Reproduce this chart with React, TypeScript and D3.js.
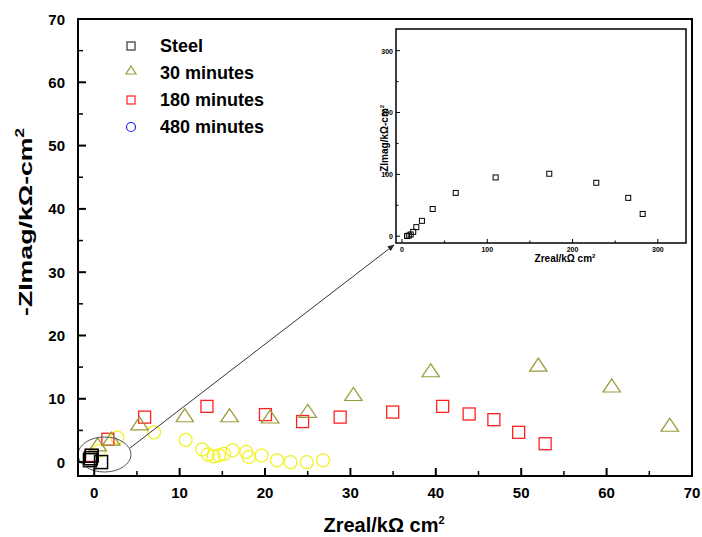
import React from "react";
import * as d3 from "d3";

// main chart values, kΩ·cm²
const steelX = [-0.5, -0.4, -0.3, 0.8];
const steelY = [0.3, 0.6, 1.0, 0];

const min30X = [0.4, 2.0, 5.3, 10.6, 15.85, 20.6, 25.0, 30.35, 39.4, 52.0, 60.6, 67.4];
const min30Y = [2.3, 3.2, 5.6, 6.9, 6.9, 6.7, 7.6, 10.25, 14.0, 14.9, 11.6, 5.4];

const min180X = [-0.3, 1.6, 5.9, 13.2, 20.05, 24.4, 28.8, 34.95, 40.8, 43.9, 46.8, 49.7, 52.8];
const min180Y = [1.05, 3.6, 7.1, 8.8, 7.5, 6.4, 7.1, 7.9, 8.8, 7.6, 6.7, 4.7, 2.9];

const min480X = [0.6, 2.7, 7.0, 10.7, 12.65, 13.3, 14.0, 14.6, 15.2, 16.2, 17.8, 18.1, 19.6, 21.4, 23.0, 24.9, 26.8];
const min480Y = [1.8, 3.9, 4.7, 3.5, 2.0, 1.2, 0.9, 1.05, 1.3, 1.85, 1.6, 0.8, 1.05, 0.27, 0, 0, 0.27];

// inset: steel only
const insetX = [6, 8, 10.2, 13.2, 16.8, 23.4, 36, 63, 109.8, 172.7, 227.8, 265.3, 282.2];
const insetY = [0.3, 1, 2.8, 7, 14.6, 24.8, 44, 70, 95, 101, 86.4, 62, 36];

const mainTicks = [0, 10, 20, 30, 40, 50, 60, 70];
const insetTicks = [0, 100, 200, 300];
const legendLabels = ["Steel", "30 minutes", "180 minutes", "480 minutes"];

const FONT = "'Liberation Sans', Arial, sans-serif";
const OLIVE = "#9c9a3c";
const RED = "#ff2020";
const YELLOW = "#f2f22a";

const ml = 78, mr = 692, mt = 19, mb = 476;
const il = 396, ir = 686, it = 29, ib = 243;

export default function App() {
  const x = d3.scaleLinear().domain([-1.9, 70]).range([ml, mr]);
  const y = d3.scaleLinear().domain([-2.2, 70]).range([mb, mt]);
  const ix = d3.scaleLinear().domain([-7, 333]).range([il, ir]);
  const iy = d3.scaleLinear().domain([-11, 335]).range([ib, it]);

  const minorMain = d3.range(5, 70, 10);
  const minorInset = d3.range(50, 333, 100);

  const tri = d3.symbol().type(d3.symbolTriangle).size(120);

  return (
    <svg width={702} height={537} style={{ position: "absolute", left: 0, top: 0, background: "#fff" }} fontFamily={FONT}>
      <defs>
        <marker id="ah" viewBox="0 0 10 10" refX="9" refY="5" markerWidth="7" markerHeight="7" orient="auto">
          <path d="M0,1 L10,5 L0,9 Z" fill="#222" />
        </marker>
      </defs>

      {/* series */}
      {min480X.map((v, i) => (
        <circle key={"c" + i} cx={x(v)} cy={y(min480Y[i])} r={6.5} fill="none" stroke={YELLOW} strokeWidth={1.3} />
      ))}
      {min180X.map((v, i) => (
        <rect key={"r" + i} x={x(v) - 6} y={y(min180Y[i]) - 6} width={12} height={12} fill="none" stroke={RED} strokeWidth={1.3} />
      ))}
      {min30X.map((v, i) => (
        <path key={"t" + i} d={tri() ?? ""} transform={`translate(${x(v)},${y(min30Y[i]) - 1}) scale(1.05,0.9)`} fill="none" stroke={OLIVE} strokeWidth={1.3} />
      ))}
      {steelX.map((v, i) => (
        <rect key={"s" + i} x={x(v) - 6.5} y={y(steelY[i]) - 6.5} width={13} height={13} fill="none" stroke="#000" strokeWidth={1.5} />
      ))}

      {/* zoom ellipse and arrow */}
      <ellipse cx={104.5} cy={454.5} rx={26.5} ry={17.5} fill="none" stroke="#555" strokeWidth={1} />
      <line x1={130} y1={448} x2={394} y2={245} stroke="#333" strokeWidth={1} markerEnd="url(#ah)" />

      {/* main frame */}
      <rect x={ml} y={mt} width={mr - ml} height={mb - mt} fill="none" stroke="#000" strokeWidth={2} />
      {mainTicks.map((t) => (
        <g key={"mt" + t}>
          <line x1={x(t)} x2={x(t)} y1={mb} y2={mb - 8} stroke="#000" strokeWidth={2} />
          <line x1={ml} x2={ml + 8} y1={y(t)} y2={y(t)} stroke="#000" strokeWidth={2} />
          <text x={x(t)} y={mb + 22} textAnchor="middle" fontSize={15} fontWeight="bold">{t}</text>
          <text x={ml - 13} y={y(t) + 5.5} textAnchor="end" fontSize={15} fontWeight="bold">{t}</text>
        </g>
      ))}
      {minorMain.map((t) => (
        <g key={"mn" + t}>
          <line x1={x(t)} x2={x(t)} y1={mb} y2={mb - 5} stroke="#000" strokeWidth={1.5} />
          <line x1={ml} x2={ml + 5} y1={y(t)} y2={y(t)} stroke="#000" strokeWidth={1.5} />
        </g>
      ))}
      <text x={384} y={532} textAnchor="middle" fontSize={20} fontWeight="bold">
        Zreal/kΩ cm<tspan dy={-8} fontSize={11}>2</tspan>
      </text>
      <text transform="translate(32,222) rotate(-90)" textAnchor="middle" fontSize={19} fontWeight="bold" textLength={188} lengthAdjust="spacingAndGlyphs">
        -ZImag/kΩ-cm<tspan dy={-8} fontSize={12}>2</tspan>
      </text>

      {/* legend */}
      {legendLabels.map((lab, i) => {
        const cy = 46 + i * 27;
        return (
          <g key={lab}>
            {i === 0 && <rect x={127} y={cy - 4} width={8} height={8} fill="none" stroke="#333" strokeWidth={1.2} />}
            {i === 1 && <path d="M131,39 L136,47 L126,47 Z" transform={`translate(0,${cy - 46})`} fill="none" stroke={OLIVE} strokeWidth={1.2} />}
            {i === 2 && <rect x={127} y={cy - 4} width={8} height={8} fill="none" stroke={RED} strokeWidth={1.2} />}
            {i === 3 && <circle cx={131} cy={cy} r={4.5} fill="none" stroke="#2020ff" strokeWidth={1.2} />}
            <text x={160} y={cy + 6} fontSize={18} fontWeight="bold">{lab}</text>
          </g>
        );
      })}

      {/* inset */}
      <rect x={il} y={it} width={ir - il} height={ib - it} fill="#fff" stroke="#000" strokeWidth={1.5} />
      {insetTicks.map((t) => (
        <g key={"it" + t}>
          <line x1={ix(t)} x2={ix(t)} y1={ib} y2={ib - 4} stroke="#000" strokeWidth={1} />
          <line x1={il} x2={il + 4} y1={iy(t)} y2={iy(t)} stroke="#000" strokeWidth={1} />
          <text x={ix(t)} y={ib + 9} textAnchor="middle" fontSize={7} fontWeight="bold">{t}</text>
          <text x={il - 3} y={iy(t) + 3} textAnchor="end" fontSize={7} fontWeight="bold">{t}</text>
        </g>
      ))}
      {minorInset.map((t) => (
        <g key={"in" + t}>
          <line x1={ix(t)} x2={ix(t)} y1={ib} y2={ib - 2.5} stroke="#000" strokeWidth={1} />
          <line x1={il} x2={il + 2.5} y1={iy(t)} y2={iy(t)} stroke="#000" strokeWidth={1} />
        </g>
      ))}
      {insetX.map((v, i) => (
        <rect key={"is" + i} x={ix(v) - 2.5} y={iy(insetY[i]) - 2.5} width={5} height={5} fill="none" stroke="#000" strokeWidth={1} />
      ))}
      <text x={565} y={262} textAnchor="middle" fontSize={10} fontWeight="bold">
        Zreal/kΩ cm<tspan dy={-4} fontSize={6}>2</tspan>
      </text>
      <text transform="translate(388,140) rotate(-90)" textAnchor="middle" fontSize={10} fontWeight="bold">
        -ZImag/kΩ-cm<tspan dy={-4} fontSize={6}>2</tspan>
      </text>
    </svg>
  );
}
